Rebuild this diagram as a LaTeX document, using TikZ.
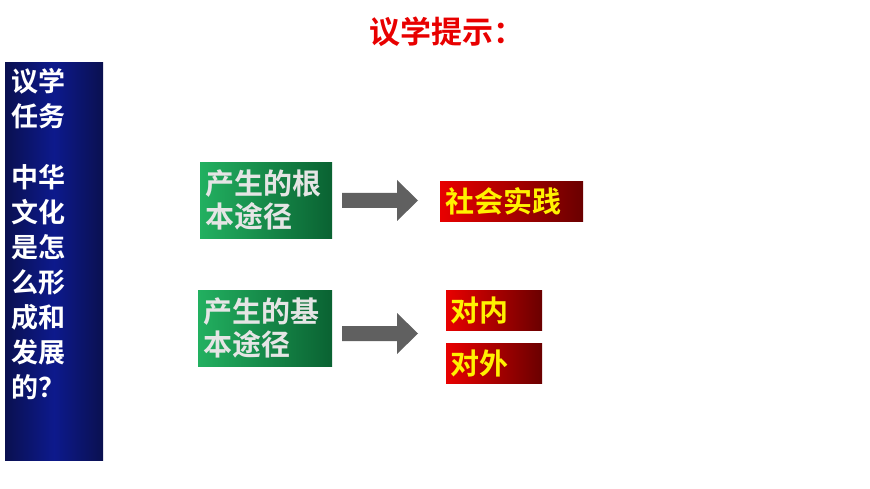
\documentclass[tikz,border=0pt]{standalone}
\usepackage{fontspec}
\newfontfamily\cjk{Noto Sans CJK SC Bold}
\definecolor{gl}{HTML}{22B060}
\definecolor{gd}{HTML}{0A6232}
\definecolor{rl}{HTML}{E80000}
\definecolor{rd}{HTML}{6A0000}
\definecolor{nv}{HTML}{102070}
\definecolor{nvd}{HTML}{0A1050}
\begin{document}
\begin{tikzpicture}[x=1pt,y=-1pt,
  gbox/.style={inner sep=0pt,left color=gl,right color=gd,text=white!90!black,font=\cjk\fontsize{29}{33}\selectfont,align=left,anchor=north west,text width=#1},
  rbox/.style={inner sep=0pt,left color=rl,right color=rd,text=yellow,font=\cjk\fontsize{29}{33}\selectfont,anchor=north west,align=left,text width=#1},
  bigarrow/.style={fill=gray!75!black,draw=none}]
\useasboundingbox (0,0) rectangle (870,489);
\node[font=\cjk\fontsize{31}{34}\selectfont,text=rl] (title) at (447,32) {议学提示：};
\shade[left color=nvd,right color=nvd,middle color=nv!80!blue] (5,63) rectangle (103,460);
\node[anchor=north west,inner sep=0pt,text=white,font=\cjk\fontsize{27}{35}\selectfont,align=left] (task) at (11,68) {议学\\任务\\[26pt]中华\\文化\\是怎\\么形\\成和\\发展\\的？};
\node[gbox=132pt,minimum height=76pt] (g1) at (200,162) {\hspace{5pt}产生的根\\\hspace{5pt}本途径};
\node[gbox=134pt,minimum height=76pt] (g2) at (198,290) {\hspace{5pt}产生的基\\\hspace{5pt}本途径};
\node[rbox=143pt,minimum height=40pt] (r1) at (440,181) {\hspace{5pt}社会实践};
\node[rbox=96pt,minimum height=40pt] (r2) at (446,290) {\hspace{4pt}对内};
\node[rbox=96pt,minimum height=40pt] (r3) at (446,343) {\hspace{4pt}对外};
\fill[bigarrow] (342,193) -- (397,193) -- (397,180) -- (418,200.5) -- (397,221) -- (397,208) -- (342,208) -- cycle;
\fill[bigarrow] (342,326) -- (397,326) -- (397,313) -- (418,333.5) -- (397,354) -- (397,341) -- (342,341) -- cycle;
\end{tikzpicture}
\end{document}
